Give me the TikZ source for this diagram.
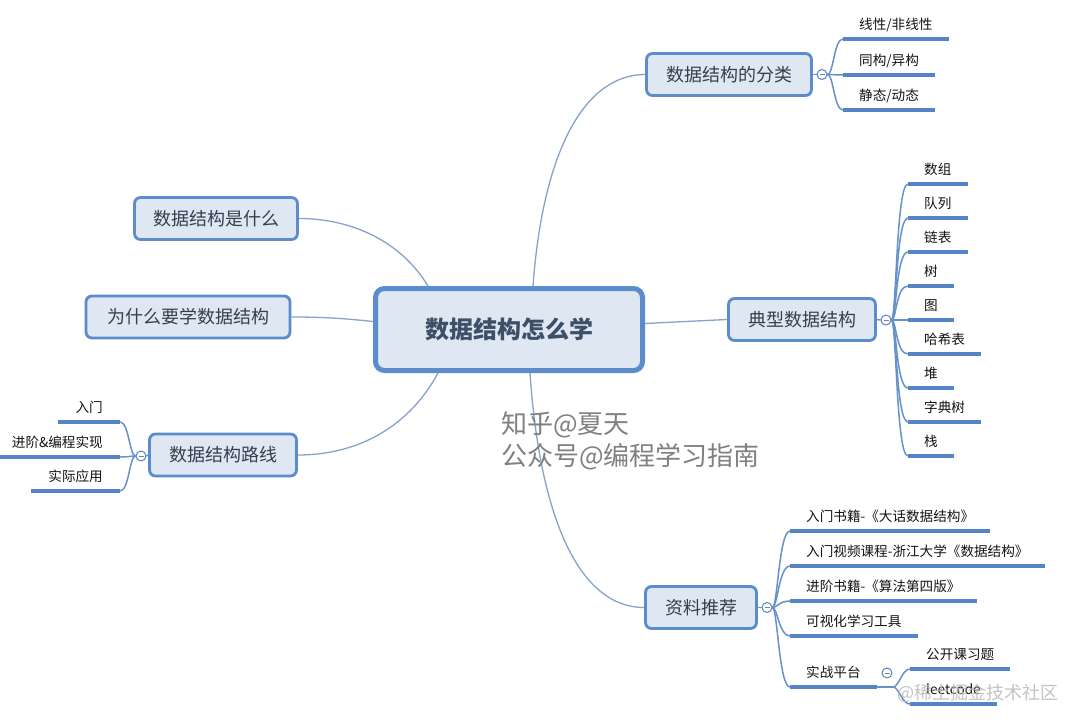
\documentclass[tikz,border=0pt]{standalone}
\usepackage{fontspec}
\setmainfont{Noto Sans CJK SC}
\usetikzlibrary{calc}
\definecolor{bd}{HTML}{5B8CCB}
\definecolor{bf}{HTML}{DEE7F2}
\definecolor{bt}{HTML}{34404F}
\definecolor{rt}{HTML}{3E4F68}
\definecolor{ln}{HTML}{86A3CB}
\definecolor{ul}{HTML}{5585C4}
\definecolor{wm}{HTML}{808080}
\tikzset{
  rootbox/.style={draw=bd, line width=5pt, fill=bf, rounded corners=9pt, minimum width=267pt, minimum height=82pt, inner sep=0pt, font=\fontsize{24}{24}\selectfont\bfseries, text=rt},
  topic/.style={draw=bd, line width=2.8pt, fill=bf, rounded corners=6pt, minimum height=42pt, inner sep=0pt, font=\fontsize{18}{18}\selectfont, text=bt},
  conn/.style={draw=ln, line width=1.3pt},
  branch/.style={draw=ul!90, line width=1.5pt},
  uline/.style={draw=ul, line width=4pt},
  fold/.style={circle, draw=ul, line width=1pt, fill=white, minimum size=10pt, inner sep=0pt,
    path picture={\draw[gray, line width=0.8pt] ([xshift=-2.5pt]path picture bounding box.center) -- ([xshift=2.5pt]path picture bounding box.center);}},
  leaf/.style={font=\fontsize{13.6}{13.6}\selectfont, text=black!92, inner xsep=16pt, inner ysep=7pt, text height=11pt, text depth=2pt},
  wmark/.style={text=wm, inner sep=0pt, font=\fontsize{26}{26}\selectfont}
}
\begin{document}
\begin{tikzpicture}[x=1pt,y=-1pt]
\fill[white] (0,0) rectangle (1080,726);
\useasboundingbox (0,0) rectangle (1080,726);

% main nodes
\node[rootbox] (r) at (509,329.5) {数据结构怎么学};
\node[topic, minimum width=165pt] (a) at (729,74.5) {数据结构的分类};
\node[topic, minimum width=163pt] (b) at (216,218.5) {数据结构是什么};
\node[topic, minimum width=204pt] (c) at (188,317) {为什么要学数据结构};
\node[topic, minimum width=147pt] (d) at (223,455) {数据结构路线};
\node[topic, minimum width=147pt] (e) at (802,319.5) {典型数据结构};
\node[topic, minimum width=111pt] (f) at (701,607.5) {资料推荐};

% main connectors
\draw[conn] ([xshift=24pt]r.north) .. controls (543,150) and (585,74.5) .. (a.west);
\draw[conn] ([xshift=-81pt]r.north) .. controls (400,240) and (350,218.5) .. (b.east);
\draw[conn] ([yshift=8pt]r.west) .. controls (340,318) and (320,317) .. (c.east);
\draw[conn] ([xshift=-71pt]r.south) .. controls (410,425) and (360,455) .. (d.east);
\draw[conn] ([yshift=6pt]r.east) -- (e.west);
\draw[conn] ([xshift=21pt]r.south) .. controls (540,520) and (580,607.5) .. (f.west);

% fold markers
\node[fold] (fa) at (822,74.5) {};
\node[fold] (fd) at (141,456) {};
\node[fold] (fe) at (886,320) {};
\node[fold] (ff) at (767,607.5) {};
\node[fold] (fs) at (887,673) {};
\draw[branch] (a.east) -- (fa.west);
\draw[branch] (d.west) -- (fd.east);
\draw[branch] (e.east) -- (fe.west);
\draw[branch] (f.east) -- (ff.west);

% leaves: classification
\node[leaf, anchor=south west] (a1) at (843,39) {线性/非线性};
\node[leaf, anchor=south west] (a2) at (843,75) {同构/异构};
\node[leaf, anchor=south west] (a3) at (843,110) {静态/动态};
\foreach \n in {a1,a2,a3}
  \draw[branch] (fa.east) .. controls +(6,0) and +(-9,0) .. (\n.south west);

% leaves: typical structures
\node[leaf, anchor=south west] (e1) at (908,184) {数组};
\node[leaf, anchor=south west] (e2) at (908,218) {队列};
\node[leaf, anchor=south west] (e3) at (908,252) {链表};
\node[leaf, anchor=south west] (e4) at (908,286) {树};
\node[leaf, anchor=south west] (e5) at (908,320) {图};
\node[leaf, anchor=south west] (e6) at (908,354) {哈希表};
\node[leaf, anchor=south west] (e7) at (908,388) {堆};
\node[leaf, anchor=south west] (e8) at (908,422) {字典树};
\node[leaf, anchor=south west] (e9) at (908,456) {栈};
\foreach \n in {e1,e2,e3,e4,e5,e6,e7,e8,e9}
  \draw[branch] (fe.east) .. controls +(5,0) and +(-12,0) .. (\n.south west);

% leaves: route
\node[leaf, anchor=south east, inner xsep=17pt] (d1) at (120,422) {入门};
\node[leaf, anchor=south east, inner xsep=17pt] (d2) at (120,457) {进阶\&编程实现};
\node[leaf, anchor=south east, inner xsep=17pt] (d3) at (120,491) {实际应用};
\foreach \n in {d1,d2,d3}
  \draw[branch] (fd.west) .. controls +(-6,0) and +(9,0) .. (\n.south east);

% leaves: resources
\node[leaf, anchor=south west] (f1) at (790,531) {入门书籍-《大话数据结构》};
\node[leaf, anchor=south west] (f2) at (790,566) {入门视频课程-浙江大学《数据结构》};
\node[leaf, anchor=south west] (f3) at (790,601) {进阶书籍-《算法第四版》};
\node[leaf, anchor=south west] (f4) at (790,636) {可视化学习工具};
\node[leaf, anchor=south west] (f5) at (790,687) {实战平台};
\foreach \n in {f1,f2,f3,f4,f5}
  \draw[branch] (ff.east) .. controls +(5,0) and +(-11,0) .. (\n.south west);

\node[leaf, anchor=south west] (s1) at (910,669) {公开课习题};
\node[leaf, anchor=south west] (s2) at (910,704) {leetcode};
\coordinate (j) at (893,687);
\draw[branch] (f5.south east) -- (j);
\foreach \n in {s1,s2}
  \draw[branch] (j) .. controls +(6,0) and +(-8,0) .. (\n.south west);

% underlines
\foreach \n in {a1,a2,a3,e1,e2,e3,e4,e5,e6,e7,e8,e9,d1,d2,d3,f1,f2,f3,f4,f5,s1,s2}
  \draw[uline] (\n.south west) -- (\n.south east);

% watermarks
\node[wmark, anchor=west] (w1) at (501,425) {知乎@夏天};
\node[wmark, anchor=west] (w2) at (501,457) {公众号@编程学习指南};
\node[anchor=west, inner sep=0pt, text=gray!55, opacity=0.85, font=\fontsize{18}{18}\selectfont] (w3) at (897,693) {@稀土掘金技术社区};
\end{tikzpicture}
\end{document}
